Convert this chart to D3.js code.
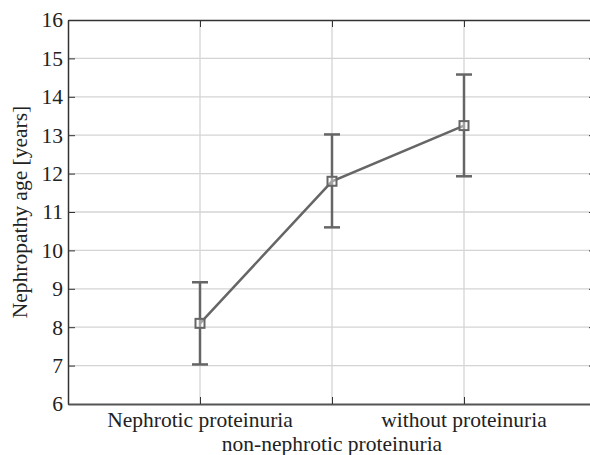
<!DOCTYPE html>
<html>
<head>
<meta charset="utf-8">
<script src="https://cdn.jsdelivr.net/npm/d3@7"></script>
<style>
  body { margin: 0; background: #fff; }
  text { font-family: "Liberation Serif", "Times New Roman", serif; fill: #222; }
</style>
</head>
<body>
<div id="graphic-area"></div>
<script>
// group labels and the mean age with its error bar ends
const categories = ["Nephrotic proteinuria", "non-nephrotic proteinuria", "without proteinuria"];
const means = [8.1, 11.8, 13.25];
const lower = [7.03, 10.6, 11.93];
const upper = [9.17, 13.02, 14.58];
const yTicks = [6, 7, 8, 9, 10, 11, 12, 13, 14, 15, 16];

const w = 590;
const h = 455;
const padLeft = 68, padTop = 20, padRight = 596, padBottom = 404;
const fontSize = "21.5px";

const svg = d3.select("#graphic-area")
              .append("svg")
              .attr("width", w)
              .attr("height", h);

const xScale = d3.scaleLinear().domain([0, 4]).range([padLeft, padRight]);
const yScale = d3.scaleLinear().domain([6, 16]).range([padBottom, padTop]);
const xPos = (d, i) => xScale(i + 1);

// grid
svg.append("g").selectAll("line")
   .data(yTicks.slice(1, -1))
   .enter().append("line")
   .attr("x1", padLeft).attr("x2", padRight)
   .attr("y1", d => yScale(d)).attr("y2", d => yScale(d))
   .attr("stroke", "#d4d4d4").attr("stroke-width", 1.3);

svg.append("g").selectAll("line")
   .data(categories)
   .enter().append("line")
   .attr("x1", xPos).attr("x2", xPos)
   .attr("y1", padTop).attr("y2", padBottom)
   .attr("stroke", "#d4d4d4").attr("stroke-width", 1.3);

// axes: left with labels, others as frame with inner ticks
const yAxis = d3.axisLeft(yScale).tickValues(yTicks).tickSizeInner(-7).tickSizeOuter(0).tickPadding(5);
const gy = svg.append("g")
   .attr("transform", "translate(" + padLeft + ",0)")
   .call(yAxis)
   .attr("font-family", null)
   .attr("font-size", null);
gy.select(".domain").attr("stroke", "#333").attr("stroke-width", 1.5);
gy.selectAll(".tick line").attr("stroke", "#333");
gy.selectAll(".tick text")
  .style("font-family", "'Liberation Serif', serif")
  .style("font-size", fontSize)
  .attr("fill", "#222");

const gyr = svg.append("g")
   .attr("transform", "translate(" + padRight + ",0)")
   .call(d3.axisRight(yScale).tickValues(yTicks).tickSizeInner(-7).tickSizeOuter(0).tickFormat(""));
gyr.selectAll(".tick line").attr("stroke", "#333");

const xAxis = d3.axisBottom(xScale).tickValues([1, 2, 3]).tickSizeInner(-7).tickSizeOuter(0).tickFormat("");
const gx = svg.append("g")
   .attr("transform", "translate(0," + padBottom + ")")
   .call(xAxis);
gx.select(".domain").attr("stroke", "#555").attr("stroke-width", 2);
gx.selectAll(".tick line").attr("stroke", "#333");

const gxt = svg.append("g")
   .attr("transform", "translate(0," + padTop + ")")
   .call(d3.axisTop(xScale).tickValues([1, 2, 3]).tickSizeInner(-7).tickSizeOuter(0).tickFormat(""));
gxt.select(".domain").attr("stroke", "#333").attr("stroke-width", 1.5);
gxt.selectAll(".tick line").attr("stroke", "#333");

// category labels, staggered
svg.append("g").selectAll("text")
   .data(categories)
   .enter().append("text")
   .attr("x", xPos)
   .attr("y", (d, i) => i % 2 === 0 ? 427 : 451)
   .attr("text-anchor", "middle")
   .style("font-size", fontSize)
   .text(d => d);

svg.append("text")
   .attr("transform", "translate(27," + ((padTop + padBottom) / 2) + ") rotate(-90)")
   .attr("text-anchor", "middle")
   .style("font-size", fontSize)
   .text("Nephropathy age [years]");

const col = "#666";

// error bars
const eb = svg.append("g").selectAll("g")
   .data(means)
   .enter().append("g");
eb.append("line")
  .attr("x1", xPos).attr("x2", xPos)
  .attr("y1", (d, i) => yScale(lower[i])).attr("y2", (d, i) => yScale(upper[i]))
  .attr("stroke", col).attr("stroke-width", 2.5);
eb.append("line")
  .attr("x1", (d, i) => xPos(d, i) - 8).attr("x2", (d, i) => xPos(d, i) + 8)
  .attr("y1", (d, i) => yScale(upper[i])).attr("y2", (d, i) => yScale(upper[i]))
  .attr("stroke", col).attr("stroke-width", 2.5);
eb.append("line")
  .attr("x1", (d, i) => xPos(d, i) - 8).attr("x2", (d, i) => xPos(d, i) + 8)
  .attr("y1", (d, i) => yScale(lower[i])).attr("y2", (d, i) => yScale(lower[i]))
  .attr("stroke", col).attr("stroke-width", 2.5);

// mean line
svg.append("path")
   .datum(means)
   .attr("d", d3.line().x(xPos).y(d => yScale(d)))
   .attr("fill", "none")
   .attr("stroke", col)
   .attr("stroke-width", 2.5);

svg.append("g").selectAll("rect")
   .data(means)
   .enter().append("rect")
   .attr("x", (d, i) => xPos(d, i) - 4.5)
   .attr("y", d => yScale(d) - 4.5)
   .attr("width", 9).attr("height", 9)
   .attr("fill", "#fff")
   .attr("fill-opacity", 0.4)
   .attr("stroke", col)
   .attr("stroke-width", 2);
</script>
</body>
</html>
